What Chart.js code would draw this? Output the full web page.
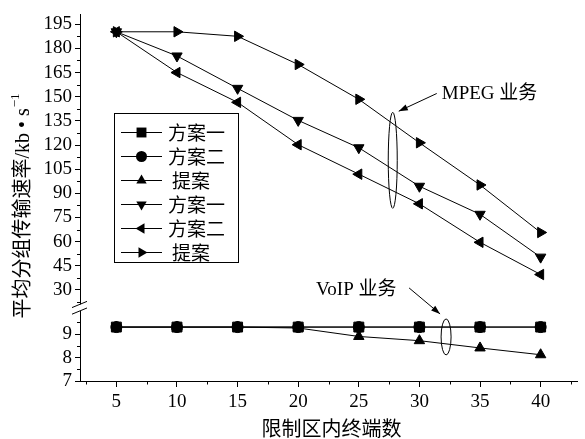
<!DOCTYPE html>
<html><head><meta charset="utf-8">
<script src="https://cdn.jsdelivr.net/npm/chart.js@4"></script>
<style>html,body{margin:0;padding:0;background:#fff}</style>
</head><body>
<canvas id="c" width="585" height="439" style="width:585px;height:439px;display:block"></canvas>
<script>
// ---- data ----
const xValues = [5, 10, 15, 20, 25, 30, 35, 40];
const voipScheme1 = [9.3, 9.3, 9.3, 9.3, 9.3, 9.3, 9.3, 9.3];
const voipScheme2 = [9.3, 9.3, 9.3, 9.3, 9.3, 9.3, 9.3, 9.3];
const voipProposal = [9.3, 9.3, 9.3, 9.26, 8.9, 8.72, 8.41, 8.12];
const mpegScheme1 = [190.3, 175.3, 155.2, 135.3, 118.3, 94.4, 77.0, 50.4];
const mpegScheme2 = [190.3, 165.0, 146.5, 120.2, 101.9, 83.5, 59.6, 39.6];
const mpegProposal = [190.3, 190.3, 187.5, 170.0, 148.4, 121.4, 95.2, 65.7];
const seriesLabels = ['方案一', '方案二', '提案', '方案一', '方案二', '提案'];
const xTicks = [5, 10, 15, 20, 25, 30, 35, 40];
const upperTicks = [30, 45, 60, 75, 90, 105, 120, 135, 150, 165, 180, 195];
const lowerTicks = [7, 8, 9];
const xTitle = '限制区内终端数';
const yTitle = '平均分组传输速率/kb • s';
const yTitleSup = '−1';

const SERIF = "'Liberation Serif','Noto Sans CJK SC'";

function pts(arr) { return xValues.map((x, i) => ({ x: x, y: arr[i] })); }

function mk(label, arr, axis, style, rot, r, order) {
  return {
    label: label, data: pts(arr), yAxisID: axis, order: order,
    pointStyle: style, rotation: rot, pointRadius: r, pointHoverRadius: r,
    borderColor: '#000', backgroundColor: '#000', pointBackgroundColor: '#000',
    pointBorderColor: '#000', pointBorderWidth: 1, borderWidth: 1, tension: 0,
    fill: false
  };
}

const datasets = [
  mk(seriesLabels[0], voipScheme1, 'yBot', 'rect', 0, 7, 2),
  mk(seriesLabels[1], voipScheme2, 'yBot', 'circle', 0, 5.5, 0),
  mk(seriesLabels[2], voipProposal, 'yBot', 'triangle', 0, 6, 3),
  mk(seriesLabels[3], mpegScheme1, 'yTop', 'triangle', 180, 6, 4),
  mk(seriesLabels[4], mpegScheme2, 'yTop', 'triangle', -90, 6, 5),
  mk(seriesLabels[5], mpegProposal, 'yTop', 'triangle', 90, 6, 6)
];

function drawMarker(ctx, style, rotDeg, radius, x, y) {
  const rad = rotDeg * Math.PI / 180;
  ctx.beginPath();
  if (style === 'circle') {
    ctx.arc(x, y, radius, 0, Math.PI * 2);
  } else if (style === 'rect') {
    const s = radius * Math.SQRT1_2;
    ctx.rect(x - s, y - s, 2 * s, 2 * s);
  } else {
    let a = rad;
    ctx.moveTo(x + Math.sin(a) * radius, y - Math.cos(a) * radius);
    a += 2 * Math.PI / 3;
    ctx.lineTo(x + Math.sin(a) * radius, y - Math.cos(a) * radius);
    a += 2 * Math.PI / 3;
    ctx.lineTo(x + Math.sin(a) * radius, y - Math.cos(a) * radius);
    ctx.closePath();
  }
  ctx.fill();
}

function arrow(ctx, x1, y1, x2, y2) {
  ctx.beginPath(); ctx.moveTo(x1, y1); ctx.lineTo(x2, y2); ctx.stroke();
  const ang = Math.atan2(y2 - y1, x2 - x1);
  const L = 9, W = 3.2;
  ctx.beginPath();
  ctx.moveTo(x2, y2);
  ctx.lineTo(x2 - L * Math.cos(ang) + W * Math.sin(ang), y2 - L * Math.sin(ang) - W * Math.cos(ang));
  ctx.lineTo(x2 - L * Math.cos(ang) - W * Math.sin(ang), y2 - L * Math.sin(ang) + W * Math.cos(ang));
  ctx.closePath(); ctx.fill();
}

const decor = {
  id: 'decor',
  afterDraw(chart) {
    const ctx = chart.ctx;
    const xs = chart.scales.x, yt = chart.scales.yTop, yb = chart.scales.yBot;
    const area = chart.chartArea;
    ctx.save();
    ctx.strokeStyle = '#000'; ctx.fillStyle = '#000'; ctx.lineWidth = 1;

    // minor ticks
    ctx.beginPath();
    for (let v = 2.5; v < 43; v += 5) {
      const px = Math.round(xs.getPixelForValue(v)) + 0.5;
      ctx.moveTo(px, area.bottom); ctx.lineTo(px, area.bottom + 3.5);
    }
    for (let v = 22.5; v < yt.max; v += 15) {
      if (v < yt.min) continue;
      const py = Math.round(yt.getPixelForValue(v)) + 0.5;
      ctx.moveTo(area.left, py); ctx.lineTo(area.left - 3, py);
    }
    for (let v = 7.5; v < yb.max; v += 1) {
      const py = Math.round(yb.getPixelForValue(v)) + 0.5;
      ctx.moveTo(area.left, py); ctx.lineTo(area.left - 3, py);
    }
    ctx.stroke();

    // axis break
    const bc = yb.top;
    const ax = area.left;
    ctx.fillStyle = '#fff';
    ctx.fillRect(ax - 2, bc - 3, 4, 6.5);
    ctx.fillStyle = '#000';
    ctx.beginPath();
    ctx.moveTo(ax - 8, bc + 0.2); ctx.lineTo(ax + 7, bc - 6);
    ctx.moveTo(ax - 8, bc + 6.8); ctx.lineTo(ax + 7, bc + 0.6);
    ctx.stroke();

    // legend
    const bx = 114, by = 113, bw = 124, bh = 149;
    ctx.strokeRect(bx + 0.5, by + 0.5, bw, bh);
    ctx.font = "19px 'Noto Sans CJK SC'";
    ctx.textBaseline = 'middle'; ctx.textAlign = 'left';
    chart.data.datasets.forEach((d, i) => {
      const y = 132 + i * 24;
      ctx.beginPath(); ctx.moveTo(121, y + 0.5); ctx.lineTo(162, y + 0.5); ctx.stroke();
      drawMarker(ctx, d.pointStyle, d.rotation, d.pointRadius, 141.5, y + 0.5);
      ctx.fillText(d.label, d.label.length === 2 ? 172 : 168, y + 1);
    });

    // annotations: MPEG
    const ex = xs.getPixelForValue(27.8), ey = yt.getPixelForValue(110.5);
    ctx.beginPath(); ctx.ellipse(ex, ey, 4.5, 48, 0, 0, Math.PI * 2); ctx.stroke();
    arrow(ctx, ex + 44, yt.getPixelForValue(152), ex + 6, yt.getPixelForValue(141));
    ctx.font = "19px " + SERIF;
    ctx.fillText('MPEG 业务', ex + 49, yt.getPixelForValue(151.5));

    // annotations: VoIP
    const vx = xs.getPixelForValue(32.2), vy = yb.getPixelForValue(8.88);
    ctx.beginPath(); ctx.ellipse(vx, vy, 5, 18, 0, 0, Math.PI * 2); ctx.stroke();
    arrow(ctx, vx - 37, vy - 49, vx - 6, vy - 23);
    ctx.fillText('VoIP 业务', vx - 130, vy - 47);

    // axis titles
    ctx.font = "20px 'Noto Sans CJK SC'";
    ctx.textAlign = 'center';
    ctx.fillText(xTitle, (area.left + area.right) / 2 + 3, 428);

    ctx.translate(24, 206);
    ctx.rotate(-Math.PI / 2);
    ctx.font = "20px " + SERIF;
    const w1 = ctx.measureText(yTitle).width;
    ctx.font = "13px " + SERIF;
    const w2 = ctx.measureText(yTitleSup).width;
    const sx = -(w1 + w2 + 1) / 2;
    ctx.textAlign = 'left';
    ctx.font = "20px " + SERIF;
    ctx.fillText(yTitle, sx, 0);
    ctx.font = "13px " + SERIF;
    ctx.fillText(yTitleSup, sx + w1 + 1, -8);
    ctx.restore();
  }
};

const tickFont = { family: "'Liberation Serif'", size: 19 };

new Chart(document.getElementById('c'), {
  type: 'line',
  data: { datasets: datasets },
  options: {
    responsive: false, animation: false, devicePixelRatio: 1,
    layout: { padding: { top: 10, right: 3, left: 0, bottom: 0 } },
    plugins: { legend: { display: false }, tooltip: { enabled: false } },
    scales: {
      x: {
        type: 'linear', min: 2, max: 43,
        afterBuildTicks: s => { s.ticks = xTicks.map(v => ({ value: v })); },
        afterFit: s => { s.height = 58; },
        grid: { drawOnChartArea: false, drawTicks: true, tickLength: 6, color: '#000', tickColor: '#000' },
        border: { display: true, color: '#000', width: 1 },
        ticks: { color: '#000', font: tickFont, padding: 4, maxRotation: 0, autoSkip: false }
      },
      yTop: {
        type: 'linear', position: 'left', stack: 'ys', stackWeight: 296.5, weight: 1,
        min: 19.2, max: 201.1,
        afterBuildTicks: s => { s.ticks = upperTicks.map(v => ({ value: v })); },
        afterFit: s => { s.width = 80; },
        grid: { drawOnChartArea: false, drawTicks: true, tickLength: 5, color: '#000', tickColor: '#000' },
        border: { display: true, color: '#000', width: 1 },
        ticks: { color: '#000', font: tickFont, padding: 3, autoSkip: false }
      },
      yBot: {
        type: 'linear', position: 'left', stack: 'ys', stackWeight: 74.5, weight: 0,
        min: 7, max: 10.14,
        afterBuildTicks: s => { s.ticks = lowerTicks.map(v => ({ value: v })); },
        afterFit: s => { s.width = 80; },
        grid: { drawOnChartArea: false, drawTicks: true, tickLength: 5, color: '#000', tickColor: '#000' },
        border: { display: true, color: '#000', width: 1 },
        ticks: { color: '#000', font: tickFont, padding: 3, autoSkip: false }
      }
    }
  },
  plugins: [decor]
});
</script>
</body></html>
